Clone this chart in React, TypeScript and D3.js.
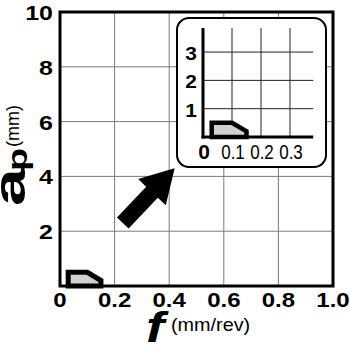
import React from "react";
import * as d3 from "d3";

// ---- data ----
const MAIN_X_TICKS = [0, 0.2, 0.4, 0.6, 0.8, 1.0];
const MAIN_X_LABELS = ["0", "0.2", "0.4", "0.6", "0.8", "1.0"];
const MAIN_Y_TICKS = [2, 4, 6, 8, 10];
const MAIN_Y_LABELS = ["2", "4", "6", "8", "10"];
const INSET_X_TICKS = [0, 0.1, 0.2, 0.3];
const INSET_X_LABELS = ["0", "0.1", "0.2", "0.3"];
const INSET_Y_TICKS = [1, 2, 3];
const INSET_Y_LABELS = ["1", "2", "3"];
// application range polygon (f mm/rev, ap mm)
const RANGE_F = [0.03, 0.03, 0.1, 0.15, 0.15];
const RANGE_AP = [0, 0.5, 0.5, 0.2, 0];
// arrow annotation (from -> to, data units)
const ARROW_FROM = [0.23, 2.3];
const ARROW_TO = [0.42, 4.3];

const FONT = "'Liberation Sans', Arial, Helvetica, sans-serif";

type STProps = {
  x: number; y: number; sx?: number; rot?: number; anchor?: string;
  size: number; weight?: string; fstyle?: string; children: React.ReactNode;
};
const ST = ({ x, y, sx = 1, rot = 0, anchor = "start", size, weight = "normal", fstyle = "normal", children }: STProps) => (
  <text
    transform={`translate(${x},${y}) rotate(${rot}) scale(${sx},1)`}
    textAnchor={anchor as any}
    fontSize={size}
    fontWeight={weight}
    fontStyle={fstyle}
    fontFamily={FONT}
    fill="#000"
  >
    {children}
  </text>
);

export default function App() {
  const x = d3.scaleLinear().domain([0, 1]).range([60, 333]);
  const y = d3.scaleLinear().domain([0, 10]).range([286, 12]);
  const xi = d3.scaleLinear().domain([0, 0.38]).range([203, 313.2]);
  const yi = d3.scaleLinear().domain([0, 3.85]).range([137, 28]);

  const pts = RANGE_F.map((f, i) => [f, RANGE_AP[i]] as [number, number]);
  const lineMain = d3.line<[number, number]>().x((d) => x(d[0])).y((d) => y(d[1]));
  const lineInset = d3.line<[number, number]>().x((d) => xi(d[0])).y((d) => yi(d[1]));

  // arrow geometry
  const ax0 = x(ARROW_FROM[0]), ay0 = y(ARROW_FROM[1]);
  const ax1 = x(ARROW_TO[0]), ay1 = y(ARROW_TO[1]);
  const L = Math.hypot(ax1 - ax0, ay1 - ay0);
  const ux = (ax1 - ax0) / L, uy = (ay1 - ay0) / L;
  const px = -uy, py = ux;
  const headLen = 33, headHalf = 19, shaftHalf = 8;
  const bx = ax1 - ux * headLen, by = ay1 - uy * headLen;
  const arrowPts: [number, number][] = [
    [ax0 + px * shaftHalf, ay0 + py * shaftHalf],
    [bx + px * shaftHalf, by + py * shaftHalf],
    [bx + px * headHalf, by + py * headHalf],
    [ax1, ay1],
    [bx - px * headHalf, by - py * headHalf],
    [bx - px * shaftHalf, by - py * shaftHalf],
    [ax0 - px * shaftHalf, ay0 - py * shaftHalf],
  ];
  const arrowPath = d3.line()(arrowPts) + "Z";

  return (
    <svg width={350} height={350} style={{ position: "absolute", left: 0, top: 0 }}>
      <rect x={0} y={0} width={350} height={350} fill="#fff" />
      {/* main grid */}
      {MAIN_X_TICKS.slice(1, -1).map((t) => (
        <line key={"gx" + t} x1={x(t)} x2={x(t)} y1={y(0)} y2={y(10)} stroke="#7a7a7a" strokeWidth={1} />
      ))}
      {MAIN_Y_TICKS.slice(0, -1).map((t) => (
        <line key={"gy" + t} x1={x(0)} x2={x(1)} y1={y(t)} y2={y(t)} stroke="#7a7a7a" strokeWidth={1} />
      ))}
      {/* polygon main */}
      <path d={lineMain(pts) + "Z"} fill="#d0d0d0" stroke="#000" strokeWidth={5} strokeLinejoin="miter" />
      {/* frame */}
      <rect x={x(0)} y={y(10)} width={x(1) - x(0)} height={y(0) - y(10)} fill="none" stroke="#000" strokeWidth={3} />
      {/* main tick labels */}
      {MAIN_X_TICKS.map((t, i) => (
        <ST key={"xl" + t} x={x(t)} y={307} anchor="middle" size={20} weight="bold" sx={1.2}>
          {MAIN_X_LABELS[i]}
        </ST>
      ))}
      {MAIN_Y_TICKS.map((t, i) => (
        <ST key={"yl" + t} x={x(0) - 7} y={y(t) + 8} anchor="end" size={20} weight="bold" sx={1.25}>
          {MAIN_Y_LABELS[i]}
        </ST>
      ))}
      {/* axis titles */}
      <ST x={146} y={342} size={42} weight="bold" fstyle="italic" sx={1.3}>f</ST>
      <ST x={171} y={331} size={18} sx={1.1}>(mm/rev)</ST>
      <ST x={25} y={206} rot={-90} size={44} weight="bold" sx={1.55}>a</ST>
      <ST x={27} y={171} rot={-90} size={27} weight="bold" sx={1.4}>p</ST>
      <ST x={19} y={147} rot={-90} size={18}>(mm)</ST>

      {/* inset */}
      <rect x={177} y={18} width={149} height={149} rx={12} ry={12} fill="#fff" stroke="#000" strokeWidth={2} />
      {INSET_X_TICKS.slice(1).map((t) => (
        <line key={"igx" + t} x1={xi(t)} x2={xi(t)} y1={yi(0)} y2={yi(3.85)} stroke="#222" strokeWidth={1} />
      ))}
      {INSET_Y_TICKS.map((t) => (
        <line key={"igy" + t} x1={xi(0)} x2={xi(0.38)} y1={yi(t)} y2={yi(t)} stroke="#222" strokeWidth={1} />
      ))}
      <path d={lineInset(pts) + "Z"} fill="#d0d0d0" stroke="#000" strokeWidth={4.5} strokeLinejoin="miter" />
      <line x1={xi(0)} x2={xi(0)} y1={yi(0) + 1.5} y2={yi(3.85)} stroke="#000" strokeWidth={3} />
      <line x1={xi(0) - 1.5} x2={xi(0.38)} y1={yi(0)} y2={yi(0)} stroke="#000" strokeWidth={3} />
      {INSET_X_TICKS.map((t, i) =>
        i === 0 ? (
          <ST key={"ixl" + t} x={xi(t) + 1} y={159} anchor="middle" size={21} weight="bold">
            {INSET_X_LABELS[i]}
          </ST>
        ) : (
          <ST key={"ixl" + t} x={xi(t) + 1} y={159} anchor="middle" size={20} sx={0.85}>
            {INSET_X_LABELS[i]}
          </ST>
        )
      )}
      {INSET_Y_TICKS.map((t, i) => (
        <ST key={"iyl" + t} x={xi(0) - 6} y={yi(t) + 8} anchor="end" size={19} weight="bold" sx={1.1}>
          {INSET_Y_LABELS[i]}
        </ST>
      ))}

      {/* arrow */}
      <path d={arrowPath} fill="#000" />
    </svg>
  );
}
